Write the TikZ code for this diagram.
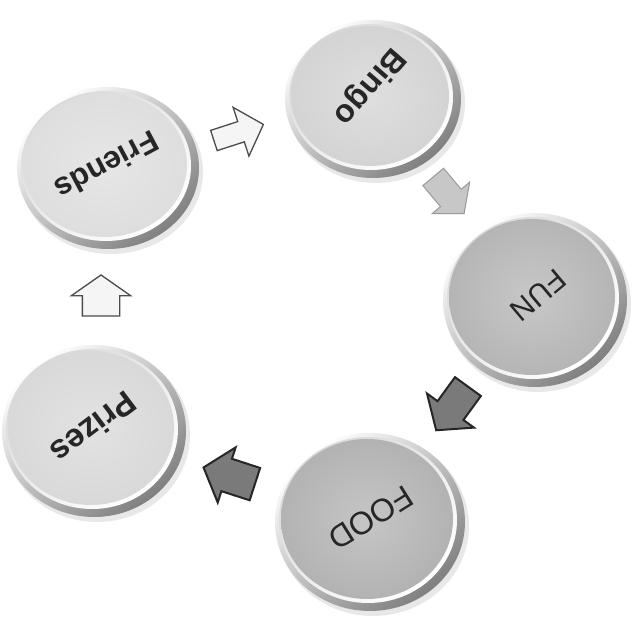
\documentclass[tikz,border=0pt]{standalone}
\usepackage{fontspec}
\setmainfont{Liberation Sans}
\usetikzlibrary{shapes.arrows}
\colorlet{fcFriends}{black!13}
\colorlet{fcBingo}{black!17}
\colorlet{fcFun}{black!29}
\colorlet{fcFood}{black!30}
\colorlet{fcPrizes}{black!15}
\newcommand\mybtn[6]{%
  % #1 name, #2 x, #3 y, #4 rx, #5 ry, #6 face colour
  \fill[black!9] (#2+3,#3-4) ellipse [x radius=#4+1, y radius=#5+1];
  \shade[top color=white, bottom color=black!50, shading angle=40]
    (#2,#3) ellipse [x radius=#4, y radius=#5];
  \shade[top color=black!15, bottom color=white, shading angle=40]
    (#2-2,#3+2) ellipse [x radius=#4-6, y radius=#5-6];
  \shade[inner color=#6!75!white, outer color=#6]
    (#2-3,#3+3) ellipse [x radius=#4-9, y radius=#5-9];
  \coordinate (#1) at (#2,#3);
}
\begin{document}
\begin{tikzpicture}[x=1pt,y=1pt,
  btntext/.style={inner sep=0pt, text=black!85},
  lightarrow/.style={single arrow, draw=black!70, fill=black!4, line width=1.3pt,
    inner xsep=0pt},
  midarrow/.style={single arrow, draw=black!40, fill=black!22, line width=1pt,
    inner xsep=0pt},
  darkarrow/.style={single arrow, draw=black!85, fill=black!52, line width=2pt,
    inner xsep=0pt}]
\useasboundingbox (0,0) rectangle (632,617);
\fill[white] (0,0) rectangle (632,617);

\mybtn{friends}{108}{449}{91}{81}{fcFriends}
\mybtn{bingo}{373}{518}{88}{79}{fcBingo}
\mybtn{fun}{535}{317}{92}{87}{fcFun}
\mybtn{food}{370}{95}{95}{89}{fcFood}
\mybtn{prizes}{94}{186}{92}{86}{fcPrizes}

\node[btntext, rotate=208, font=\fontsize{31}{36}\selectfont\bfseries] (tfriends) at (107,451) {Friends};
\node[btntext, rotate=229, font=\fontsize{32}{38}\selectfont\bfseries] (tbingo) at (369,531) {Bingo};
\node[btntext, rotate=220, font=\fontsize{30}{36}\selectfont] (tfun) at (538,322) {FUN};
\node[btntext, rotate=212, font=\fontsize{32}{38}\selectfont] (tfood) at (371,99) {FOOD};
\node[btntext, rotate=217, font=\fontsize{33}{38}\selectfont\bfseries] (tprizes) at (94,189) {Prizes};

\node[lightarrow, rotate=18, inner ysep=10pt, single arrow head extend=15pt,
  minimum height=52pt, single arrow tip angle=95] (a1) at (234,483) {};
\node[midarrow, rotate=-50, inner ysep=13pt, single arrow head extend=11pt,
  minimum height=48pt, single arrow tip angle=100] (a2) at (445,426) {};
\node[darkarrow, rotate=234, inner ysep=15pt, single arrow head extend=13pt,
  minimum height=54pt, single arrow tip angle=100] (a3) at (456,214) {};
\node[darkarrow, rotate=162, inner ysep=16pt, single arrow head extend=12pt,
  minimum height=54pt, single arrow tip angle=100] (a4) at (236,139) {};
\node[lightarrow, rotate=90, inner ysep=18pt, single arrow head extend=11pt,
  minimum height=41pt, single arrow tip angle=110] (a5) at (101,315) {};
\end{tikzpicture}
\end{document}
